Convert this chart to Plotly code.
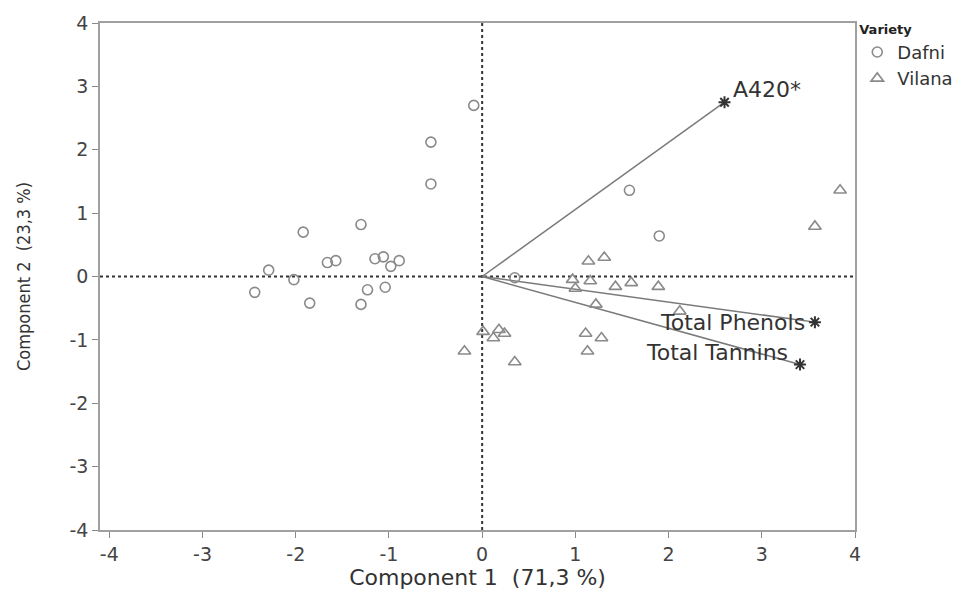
import plotly.graph_objects as go

# Scores
dafni_x = [-0.09, -0.55, -0.55, -1.30, -1.92, -1.66, -1.57, -1.15, -1.06, -0.89, -0.98,
           -2.29, -2.02, -2.44, -1.85, -1.23, -1.04, -1.30, 0.35, 1.90, 1.58]
dafni_y = [2.70, 2.12, 1.46, 0.82, 0.70, 0.22, 0.25, 0.28, 0.31, 0.25, 0.16,
           0.10, -0.05, -0.25, -0.42, -0.21, -0.17, -0.44, -0.02, 0.64, 1.36]
vilana_x = [1.14, 1.31, 0.97, 1.16, 1.00, 1.43, 1.60, 1.89, 1.22, 2.12, 0.01, 0.18,
            0.24, 0.12, -0.19, 0.35, 1.11, 1.28, 1.13, 3.84, 3.57]
vilana_y = [0.24, 0.30, -0.05, -0.07, -0.19, -0.16, -0.10, -0.16, -0.44, -0.55, -0.87, -0.84,
            -0.90, -0.97, -1.18, -1.35, -0.90, -0.97, -1.18, 1.36, 0.79]

# Loadings
load_names = ["A420*", "Total Phenols", "Total Tannins"]
load_x = [2.60, 3.57, 3.41]
load_y = [2.75, -0.72, -1.39]

x_ticks = [-4, -3, -2, -1, 0, 1, 2, 3, 4]
x_tick_labels = ["-4", "-3", "-2", "-1", "0", "1", "2", "3", "4"]
y_ticks = [-4, -3, -2, -1, 0, 1, 2, 3, 4]
y_tick_labels = ["-4", "-3", "-2", "-1", "0", "1", "2", "3", "4"]

GREY = "#8a8a8a"
DARK = "#444444"
FONT = "DejaVu Sans"

fig = go.Figure()

# reference dotted lines
fig.add_shape(type="line", x0=0, x1=0, y0=-4, y1=4, xref="x", yref="y",
              line=dict(color="#333333", width=2, dash="dot"), layer="below")
fig.add_shape(type="line", x0=-4.1, x1=4, y0=0, y1=0, xref="x", yref="y",
              line=dict(color="#333333", width=2, dash="dot"), layer="below")

# loading vectors
for nm, lx, ly in zip(load_names, load_x, load_y):
    fig.add_trace(go.Scatter(x=[0, lx], y=[0, ly], mode="lines",
                             line=dict(color="#7a7a7a", width=1.5),
                             showlegend=False, hoverinfo="skip"))

fig.add_trace(go.Scatter(x=dafni_x, y=dafni_y, mode="markers", name="Dafni",
                         marker=dict(symbol="circle-open", size=10, color=GREY,
                                     line=dict(width=1.6, color=GREY))))
fig.add_trace(go.Scatter(x=vilana_x, y=vilana_y, mode="markers", name="Vilana",
                         marker=dict(symbol="triangle-up-open", size=11, color=GREY,
                                     line=dict(width=1.6, color=GREY))))

fig.add_trace(go.Scatter(x=load_x, y=load_y, mode="markers", showlegend=False,
                         marker=dict(symbol="asterisk-open", size=10, color="#333333",
                                     line=dict(width=2, color="#333333"))))

# loading labels
positions = [("left", "bottom", 6, -2), ("right", "middle", -8, 0), ("right", "bottom", -10, -2)]
for nm, lx, ly, (xa, ya, xs, ys) in zip(load_names, load_x, load_y, positions):
    fig.add_annotation(x=lx, y=ly, text=nm, showarrow=False, xanchor=xa, yanchor=ya,
                       xshift=xs, yshift=ys,
                       font=dict(family=FONT, size=22, color="#333333"))

fig.update_xaxes(range=[-4.1, 4.0], tickvals=x_ticks, ticktext=x_tick_labels,
                 ticks="outside", ticklen=6,
                 tickcolor=GREY, showline=True, linecolor="#a0a0a0", linewidth=1.5,
                 mirror=True, showgrid=False, zeroline=False,
                 tickfont=dict(family=FONT, size=19, color=DARK),
                 title=dict(text="Component 1  (71,3 %)", standoff=4,
                            font=dict(family=FONT, size=22, color="#333333")))
fig.update_yaxes(range=[-4, 4], tickvals=y_ticks, ticktext=y_tick_labels,
                 ticks="outside", ticklen=6,
                 tickcolor=GREY, showline=True, linecolor="#a0a0a0", linewidth=1.5,
                 mirror=True, showgrid=False, zeroline=False,
                 tickfont=dict(family=FONT, size=19, color=DARK),
                 title=dict(text="Component 2  (23,3 %)", standoff=34,
                            font=dict(family="DejaVu Sans Condensed", size=18, color="#333333")))

fig.update_layout(
    width=979, height=596,
    margin=dict(l=100, r=124, t=16, b=61),
    plot_bgcolor="white", paper_bgcolor="white",
    legend=dict(x=1.003, y=1.012, xanchor="left", yanchor="top",
                title=dict(text="<b>Variety</b>", font=dict(family=FONT, size=13, color="#222")),
                font=dict(family=FONT, size=18, color="#333333"),
                tracegroupgap=0, itemwidth=30, bgcolor="rgba(0,0,0,0)"),
)

fig.write_html("out.html")
